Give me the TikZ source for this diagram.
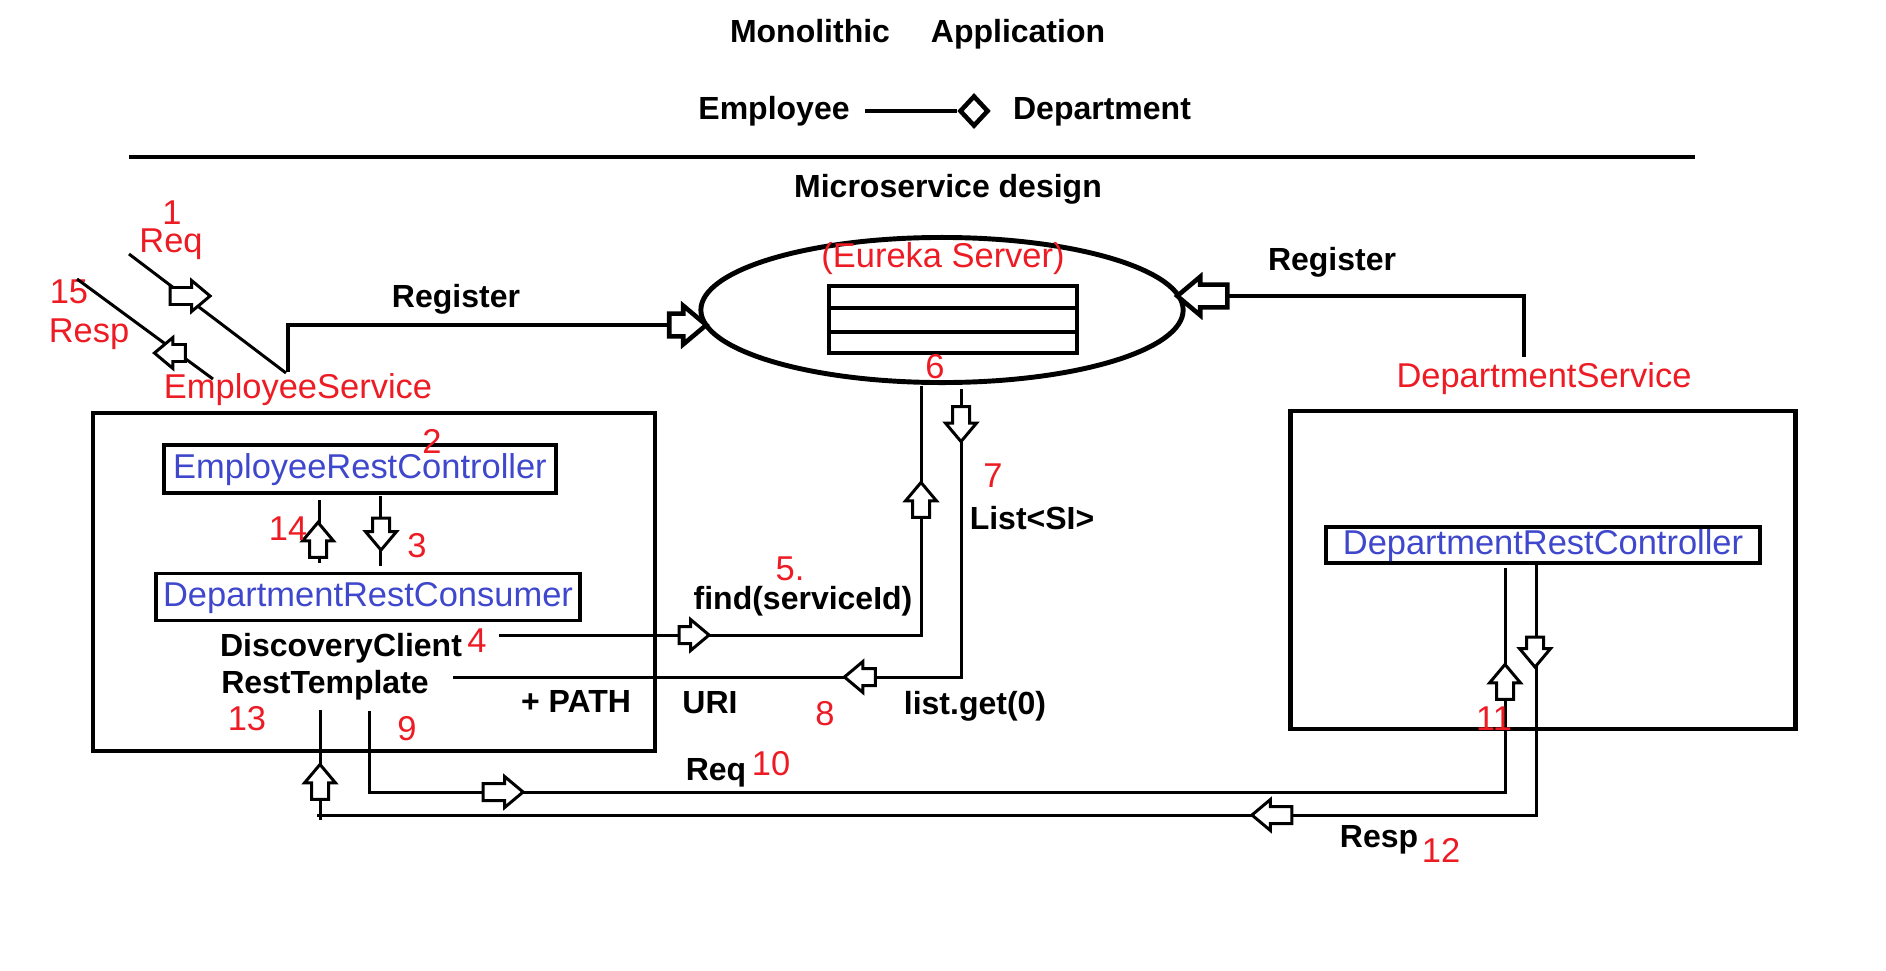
\documentclass[tikz,border=0pt]{standalone}
\usepackage{fontspec}
\setmainfont{Liberation Sans}
\usetikzlibrary{shapes.geometric,shapes.arrows,positioning}
\definecolor{pred}{HTML}{ED1C24}
\definecolor{pblue}{HTML}{3F48CC}
\tikzset{
  txt/.style={font=\bfseries\fontsize{9.1}{11}\selectfont,inner sep=0pt,anchor=base},
  rtxt/.style={font=\fontsize{9.8}{12}\selectfont,text=pred,inner sep=0pt,anchor=base},
  wire/.style={line width=0.85pt},
  fatwire/.style={line width=1.4pt},
  svcbox/.style={draw,rectangle,line width=1.3pt},
  clsbox/.style={draw,rectangle,line width=1pt,inner sep=0pt,text=pblue,font=\fontsize{9.8}{12}\selectfont,text height=0.72em,text depth=0.2em},
  blk/.style={single arrow,draw,fill=white,line width=0.85pt,inner sep=0.07cm,minimum height=0.35cm,single arrow head extend=0.07cm,single arrow tip angle=80},
  bigblk/.style={blk,line width=1.3pt,inner sep=0.09cm,single arrow head extend=0.08cm}
}
\begin{document}
\begin{tikzpicture}[x=0.01cm,y=-0.01cm]
  \useasboundingbox (0,0) rectangle (1886,970);

  \node[txt] (mono) at (810,43) {Monolithic};
  \node[txt] (appl) at (1018,43) {Application};
  \node[txt] (emp) at (774,120) {Employee};
  \node[txt] (dep) at (1102,120) {Department};
  \node[diamond,draw,line width=1.3pt,inner sep=0pt,minimum width=0.29cm,minimum height=0.31cm] (agg) at (974,111) {};
  \coordinate (aggL) at (865,111);
  \draw[fatwire] (aggL) -- (agg.west);

  \coordinate (sepL) at (129,157);
  \coordinate (sepR) at (1695,157);
  \draw[fatwire] (sepL) -- (sepR);
  \node[txt] (micro) at (948,197) {Microservice design};

  \node[ellipse,draw,line width=1.4pt,minimum width=4.82cm,minimum height=1.45cm] (eureka) at (942,310) {};
  \node[rtxt] (eutxt) at (943,267) {(Eureka Server)};
  \draw[line width=1pt] (829,286) rectangle (1077,353);
  \draw[line width=1pt] (829,308) -- (1077,308);
  \draw[line width=1pt] (829,332) -- (1079,332);
  \node[rtxt] (n6) at (935,378) {6};

  \node[svcbox,minimum width=5.62cm,minimum height=3.38cm] (esvc) at (374,582) {};
  \node[rtxt] (esvctxt) at (298,398) {EmployeeService};
  \node[svcbox,minimum width=5.05cm,minimum height=3.18cm] (dsvc) at (1543,570) {};
  \node[rtxt] (dsvctxt) at (1544,387) {DepartmentService};

  \node[clsbox,minimum width=3.92cm,minimum height=0.48cm] (erc) at (360,469) {EmployeeRestController};
  \node[clsbox,minimum width=4.24cm,minimum height=0.47cm] (drcons) at (368,597) {DepartmentRestConsumer};
  \node[clsbox,minimum width=4.34cm,minimum height=0.36cm] (drc) at (1543,545) {DepartmentRestController};

  \node[rtxt] (n1) at (172,225) {1};
  \node[rtxt] (req1) at (171,252) {Req};
  \node[rtxt] (n15) at (69,303) {15};
  \node[rtxt] (resp15) at (89,342) {Resp};
  \coordinate (reqA) at (129,254);
  \coordinate (reqB) at (286,373);
  \draw[wire] (reqA) -- (reqB);
  \node[blk,minimum height=0.4cm] (a1) at (185,296) {};
  \coordinate (respA) at (77,279);
  \coordinate (respB) at (213,379);
  \draw[wire] (respA) -- (respB);
  \node[blk,rotate=180,minimum height=0.31cm] (a15) at (175,353) {};

  \coordinate (regL0) at (288,372);
  \coordinate (regL1) at (700,325);
  \draw[fatwire] (regL0) |- (regL1);
  \node[bigblk,minimum height=0.37cm] (aregL) at (681,325) {};
  \node[txt] (regLtxt) at (456,307) {Register};
  \coordinate (regR0) at (1524,357);
  \coordinate (regR1) at (1183,296);
  \draw[fatwire] (regR0) |- (regR1);
  \node[bigblk,rotate=180,minimum height=0.5cm] (aregR) at (1209,296) {};
  \node[txt] (regRtxt) at (1332,270) {Register};

  \node[rtxt] (n2) at (432,453) {2};
  \coordinate (c14a) at (319,563);
  \coordinate (c14b) at (319,500);
  \draw[wire] (c14a) -- (c14b);
  \node[blk,rotate=90] (a14) at (318,545) {};
  \node[rtxt] (n14) at (288,540) {14};
  \coordinate (c3a) at (380,496);
  \coordinate (c3b) at (380,566);
  \draw[wire] (c3a) -- (c3b);
  \node[blk,rotate=-90,minimum height=0.32cm] (a3) at (381,529) {};
  \node[rtxt] (n3) at (417,557) {3};

  \node[txt] (dclient) at (341,656) {DiscoveryClient};
  \node[rtxt] (n4) at (477,652) {4};
  \node[txt] (rtmpl) at (325,693) {RestTemplate};
  \node[txt] (path) at (576,712) {+ PATH};
  \node[rtxt] (n13) at (247,730) {13};
  \node[rtxt] (n9) at (407,740) {9};

  \coordinate (c4a) at (499,635);
  \coordinate (c5a) at (921,635);
  \coordinate (c5b) at (921,386);
  \draw[wire] (c4a) -- (c5a) -- (c5b);
  \node[blk,minimum height=0.3cm] (a4) at (689,635) {};
  \node[blk,rotate=90] (a5) at (921,505) {};
  \node[rtxt] (n5) at (790,580) {5.};
  \node[txt] (find) at (803,609) {find(serviceId)};

  \coordinate (c7a) at (961,389);
  \coordinate (c7b) at (961,677);
  \coordinate (c8) at (453,677);
  \draw[wire] (c7a) -- (c7b) -- (c8);
  \node[blk,rotate=-90] (a7) at (961,419) {};
  \node[blk,rotate=180,minimum height=0.31cm] (a8) at (865,677) {};
  \node[rtxt] (n7) at (993,487) {7};
  \node[txt] (list) at (1032,529) {List<SI>};
  \node[txt] (uri) at (710,713) {URI};
  \node[rtxt] (n8) at (825,725) {8};
  \node[txt] (get) at (975,714) {list.get(0)};

  \coordinate (c9a) at (369,711);
  \coordinate (c9b) at (369,792);
  \coordinate (c11a) at (1505,792);
  \coordinate (c11b) at (1505,568);
  \draw[wire] (c9a) -- (c9b) -- (c11a) -- (c11b);
  \node[blk,minimum height=0.4cm] (a10) at (498,792) {};
  \node[blk,rotate=90] (a11) at (1505,687) {};
  \node[txt] (req10) at (716,780) {Req};
  \node[rtxt] (n10) at (771,775) {10};
  \node[rtxt] (n11) at (1494,730) {11};

  \coordinate (c12a) at (1536,565);
  \coordinate (c12b) at (1536,815);
  \coordinate (c13b) at (317,815);
  \coordinate (c13a) at (320,710);
  \coordinate (c13c) at (320,820);
  \draw[wire] (c12a) -- (c12b) -- (c13b);
  \draw[wire] (c13c) -- (c13a);
  \node[blk,rotate=-90,minimum height=0.3cm] (a12) at (1535,647) {};
  \node[blk,rotate=180,minimum height=0.4cm] (a12b) at (1277,815) {};
  \node[blk,rotate=90] (a13) at (320,787) {};
  \node[txt] (resp12) at (1379,847) {Resp};
  \node[rtxt] (n12) at (1441,862) {12};
\end{tikzpicture}
\end{document}
